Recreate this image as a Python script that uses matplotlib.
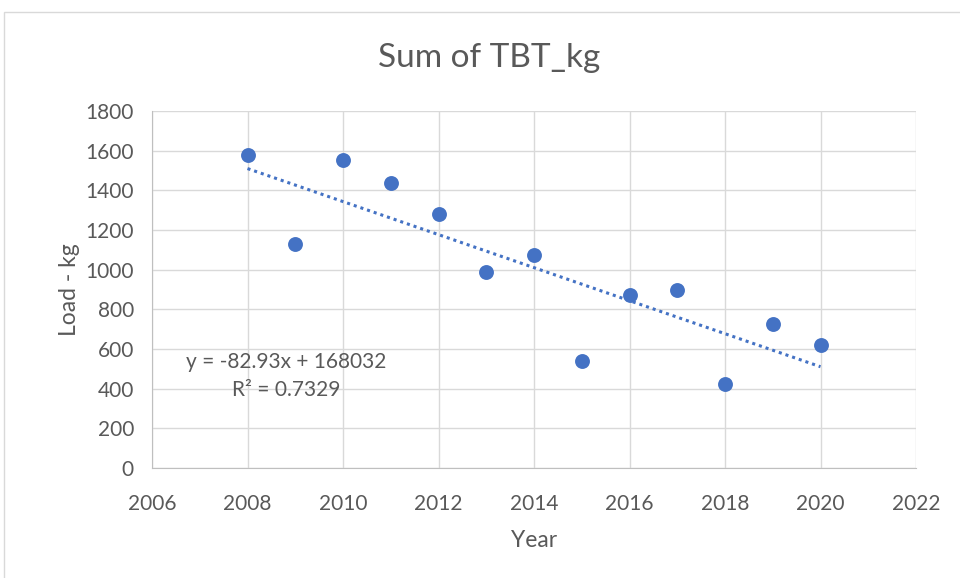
import numpy as np
import matplotlib
matplotlib.use("Agg")
import matplotlib.pyplot as plt
from matplotlib.patches import Rectangle

years = [2008, 2009, 2010, 2011, 2012, 2013, 2014, 2015, 2016, 2017, 2018, 2019, 2020]
tbt_kg = [1578, 1130, 1553, 1438, 1283, 990, 1075, 542, 874, 895, 426, 728, 621]
x_ticks = [2006, 2008, 2010, 2012, 2014, 2016, 2018, 2020, 2022]
y_ticks = [0, 200, 400, 600, 800, 1000, 1200, 1400, 1600, 1800]

blue = "#4472C4"
text_col = "#595959"
plt.rcParams["font.family"] = ["Lato", "DejaVu Sans"]

fig = plt.figure(figsize=(9.6, 5.78), dpi=100)
W, H = 960, 578
ax = fig.add_axes([152 / W, (H - 468) / H, (916 - 152) / W, (468 - 111) / H])

# chart frame
fig.patches.append(Rectangle((4 / W, -0.1), 1.1, (H - 12) / H + 0.1, transform=fig.transFigure,
                             fill=False, edgecolor="#D9D9D9", linewidth=1))

ax.scatter(years, tbt_kg, s=115, color=blue, zorder=3, linewidths=0)

# linear trendline
slope, intercept = np.polyfit(years, tbt_kg, 1)
xs = np.array([years[0], years[-1]])
ax.plot(xs, slope * xs + intercept, color=blue, linestyle=(0, (1, 1.3)), linewidth=2.2, zorder=2)

ax.set_xlim(2006, 2022)
ax.set_ylim(0, 1800)
ax.set_xticks(x_ticks)
ax.set_yticks(y_ticks)
ax.grid(True, color="#D9D9D9", linewidth=1)
ax.set_axisbelow(True)
for s in ["top", "right"]:
    ax.spines[s].set_visible(False)
for s in ["left", "bottom"]:
    ax.spines[s].set_color("#BFBFBF")
ax.tick_params(axis="x", length=0, labelsize=15, colors=text_col, pad=19)
ax.tick_params(axis="y", length=0, labelsize=15, colors=text_col, pad=13)

# title is centred on the whole chart area, not the plot area
fig.text(489 / W, 1 - 58 / H, "Sum of TBT_kg", ha="center", va="center", fontsize=24, color=text_col)
ax.set_xlabel("Year", fontsize=16.5, color=text_col, labelpad=11)
ax.set_ylabel("Load - kg", fontsize=16.5, color=text_col, labelpad=4)

ax.text(2008.8, 464, "y = -82.93x + 168032\nR\u00b2 = 0.7329", ha="center", va="center",
        multialignment="center", fontsize=15, color=text_col, linespacing=1.55)

fig.savefig("out.png", dpi=100)
